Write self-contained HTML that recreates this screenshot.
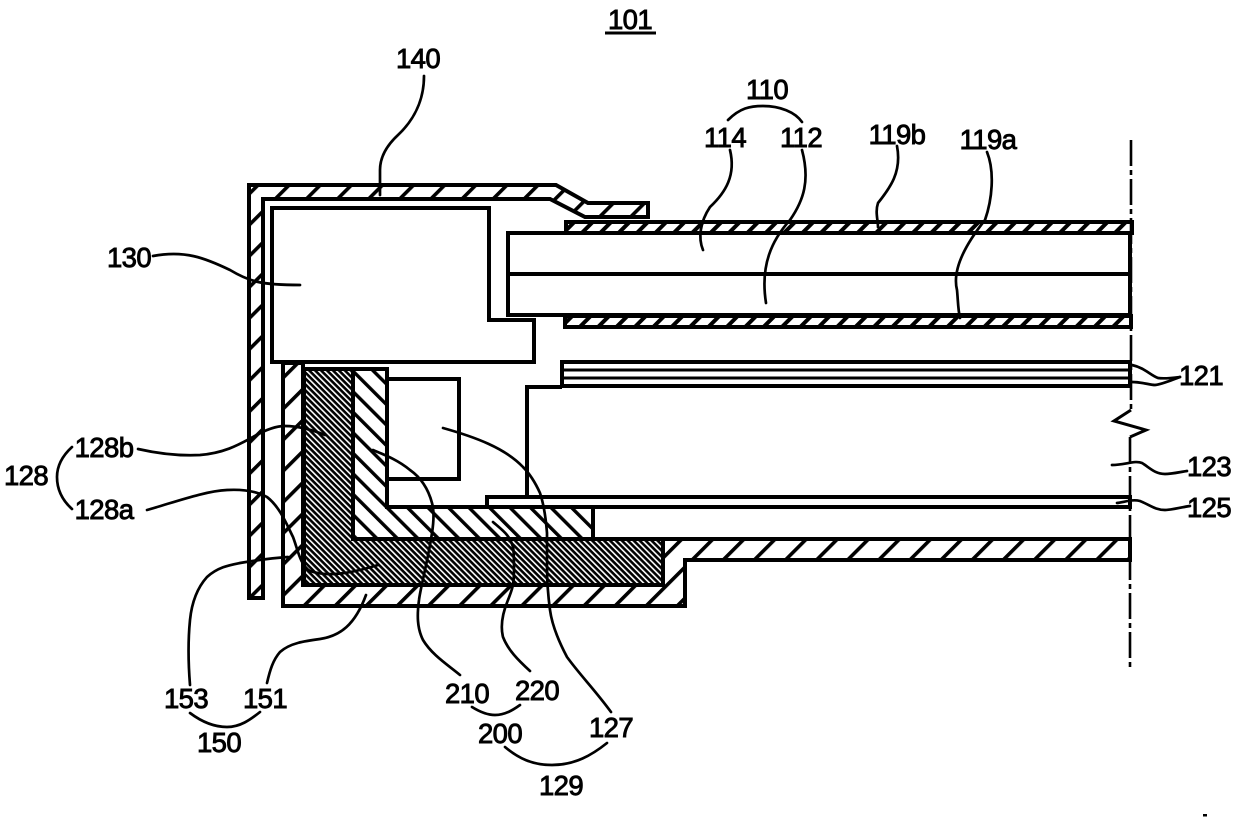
<!DOCTYPE html>
<html><head><meta charset="utf-8"><style>
html,body{margin:0;padding:0;background:#fff;width:1240px;height:824px;overflow:hidden}
svg{display:block}
text{font-family:"Liberation Sans",sans-serif;font-size:27.5px;fill:#000;stroke:#000;stroke-width:.9;text-anchor:middle;letter-spacing:-.6px}
.l{fill:none;stroke:#000;stroke-width:2.7;stroke-linecap:round;stroke-linejoin:round}
.s{stroke:#000;stroke-width:4;stroke-linejoin:miter}
</style></head><body>
<svg width="1240" height="824" viewBox="0 0 1240 824" xmlns="http://www.w3.org/2000/svg">
<defs>
<pattern id="h1" width="22" height="10" patternUnits="userSpaceOnUse" patternTransform="translate(5 0) rotate(45)"><rect width="22" height="10" fill="#fff"/><rect width="3.6" height="10" fill="#000"/></pattern>
<pattern id="h2" width="13" height="10" patternUnits="userSpaceOnUse" patternTransform="translate(3 0) rotate(45)"><rect width="13" height="10" fill="#fff"/><rect width="4" height="10" fill="#000"/></pattern>
<pattern id="h3" width="14.5" height="10" patternUnits="userSpaceOnUse" patternTransform="translate(0 0) rotate(-45)"><rect width="14.5" height="10" fill="#fff"/><rect width="3.4" height="10" fill="#000"/></pattern>
<pattern id="h4" width="4.2" height="10" patternUnits="userSpaceOnUse" patternTransform="rotate(-45)"><rect width="4.2" height="10" fill="#000"/><rect width="1.6" height="10" fill="#fff"/></pattern>
</defs>

<!-- top sheet -->
<rect class="s" x="566" y="222" width="566" height="11" fill="url(#h2)"/>
<!-- frame 140 -->
<polygon class="s" fill="url(#h1)" points="249,185 556,185 588,203 648,203 648,217 585,217 550,199 263,199 263,598 249,598"/>
<!-- light guide -->
<rect class="s" x="508" y="233" width="622" height="82" fill="#fff"/>
<path class="s" d="M508 274H1130" fill="none"/>
<!-- lower sheet -->
<rect class="s" x="565" y="316" width="566" height="11" fill="url(#h2)"/>
<!-- lamp block 130 -->
<polygon class="s" fill="#fff" points="272,208 489,208 489,320 534,320 534,362 272,362"/>
<!-- optical sheets 121 -->
<rect class="s" x="562" y="362" width="568" height="24" fill="#fff"/>
<path class="s" d="M562 370H1130M562 378H1130" fill="none" style="stroke-width:3"/>
<!-- LGP 123 -->
<path class="s" d="M562 387H527V498" fill="none"/>
<!-- reflector 125 -->
<polygon class="s" fill="#fff" points="487,497 1130,497 1130,507 487,507"/>
<!-- shell 151 -->
<polygon class="s" fill="url(#h1)" points="283,363 303,363 303,585 663,585 663,539 1130,539 1130,560 685,560 685,606 283,606"/>
<!-- light-hatched 210/220 -->
<polygon class="s" fill="url(#h3)" points="353,369 387,369 387,507 593,507 593,539 353,539"/>
<!-- dark 128 -->
<polygon class="s" fill="url(#h4)" points="304,369 353,369 353,539 663,539 663,585 304,585"/>
<!-- box 127 -->
<rect class="s" x="387" y="379" width="72" height="100" fill="#fff"/>

<!-- center line -->
<path d="M1131 140V410" fill="none" stroke="#000" stroke-width="2.6" stroke-dasharray="26 4 5 4"/>
<path d="M1131 410L1114 421L1146 430L1130 437" fill="none" stroke="#000" stroke-width="3"/>
<path d="M1130 437V670" fill="none" stroke="#000" stroke-width="2.6" stroke-dasharray="26 4 5 4"/>
<rect x="1203" y="814" width="4" height="2.5" fill="#000"/>

<!-- underline 101 -->
<path d="M605 33H656" stroke="#000" stroke-width="3"/>

<!-- leaders -->
<g class="l">
<path d="M424 76C424 100 414 120 398 135C384 148 380 160 380 170V195"/>
<path d="M153 256C185 250 205 258 230 270C250 282 262 285 300 285"/>
<path d="M728 120C740 108 750 106 763 106C780 106 795 112 802 122"/>
<path d="M730 150C736 175 726 192 710 207C700 222 698 238 703 250"/>
<path d="M802 150C810 180 804 200 790 220C772 240 760 265 766 303"/>
<path d="M897 146C902 172 890 188 878 203C875 212 878 220 878 227"/>
<path d="M987 152C995 172 992 200 985 220C965 245 952 270 957 290C958 300 958 310 960 318"/>
<path d="M1132 365C1145 368 1150 375 1158 378C1165 379 1172 378 1180 377"/>
<path d="M1132 382C1142 382 1150 385 1155 385C1163 384 1172 380 1180 377"/>
<path d="M1112 465C1125 465 1135 460 1142 463C1150 468 1155 474 1165 474C1172 474 1180 472 1187 471"/>
<path d="M1117 503C1125 502 1132 499 1140 501C1150 505 1155 510 1165 510C1172 510 1182 507 1190 506"/>
<path d="M72 447C60 458 57 468 57 477C57 490 62 500 72 509"/>
<path d="M138 449C160 454 180 456 200 455C225 453 240 444 253 437C265 430 275 426 285 426C300 426 315 431 325 435"/>
<path d="M147 510C175 502 205 491 227 490C245 489 258 492 267 497C280 507 287 525 293 537C298 550 300 565 310 571C330 578 355 572 378 565"/>
<path d="M190 685C188 660 188 640 190 620C192 600 198 587 207 577C218 567 230 565 240 563C258 560 272 558 288 557"/>
<path d="M267 683C270 670 273 660 280 652C290 643 305 641 320 639C340 636 355 625 366 595"/>
<path d="M190 713C202 722 215 727 227 727C240 727 250 720 260 712"/>
<path d="M460 675C448 665 432 655 423 640C417 628 417 615 419 600C420 590 428 560 432 533C434 520 434 510 432 503C428 488 420 477 410 470C398 460 385 455 373 450"/>
<path d="M530 671C518 660 508 650 503 637C500 625 503 612 508 600C512 590 514 585 514 570C514 560 514 552 513 547C510 535 502 530 493 522"/>
<path d="M611 712C595 690 580 675 567 657C558 640 552 625 550 610C548 595 547 580 547 567V533C546 520 544 505 540 493C535 482 530 474 523 467C505 448 475 437 443 428"/>
<path d="M472 707C480 712 487 715 495 715C505 715 513 710 520 705"/>
<path d="M505 747C518 758 532 765 552 765C575 765 592 755 607 743"/>
</g>

<!-- labels -->
<text x="630" y="29">101</text>
<text x="418" y="68">140</text>
<text x="767" y="99">110</text>
<text x="725" y="147">114</text>
<text x="801" y="147">112</text>
<text x="897" y="144">119b</text>
<text x="988" y="149">119a</text>
<text x="129" y="267">130</text>
<text x="1201" y="385">121</text>
<text x="1209" y="476">123</text>
<text x="1209" y="517">125</text>
<text x="26" y="485">128</text>
<text x="104" y="457">128b</text>
<text x="104" y="519">128a</text>
<text x="186" y="708">153</text>
<text x="265" y="708">151</text>
<text x="219" y="752">150</text>
<text x="467" y="703">210</text>
<text x="537" y="700">220</text>
<text x="500" y="743">200</text>
<text x="611" y="737">127</text>
<text x="561" y="795">129</text>
</svg>
</body></html>
